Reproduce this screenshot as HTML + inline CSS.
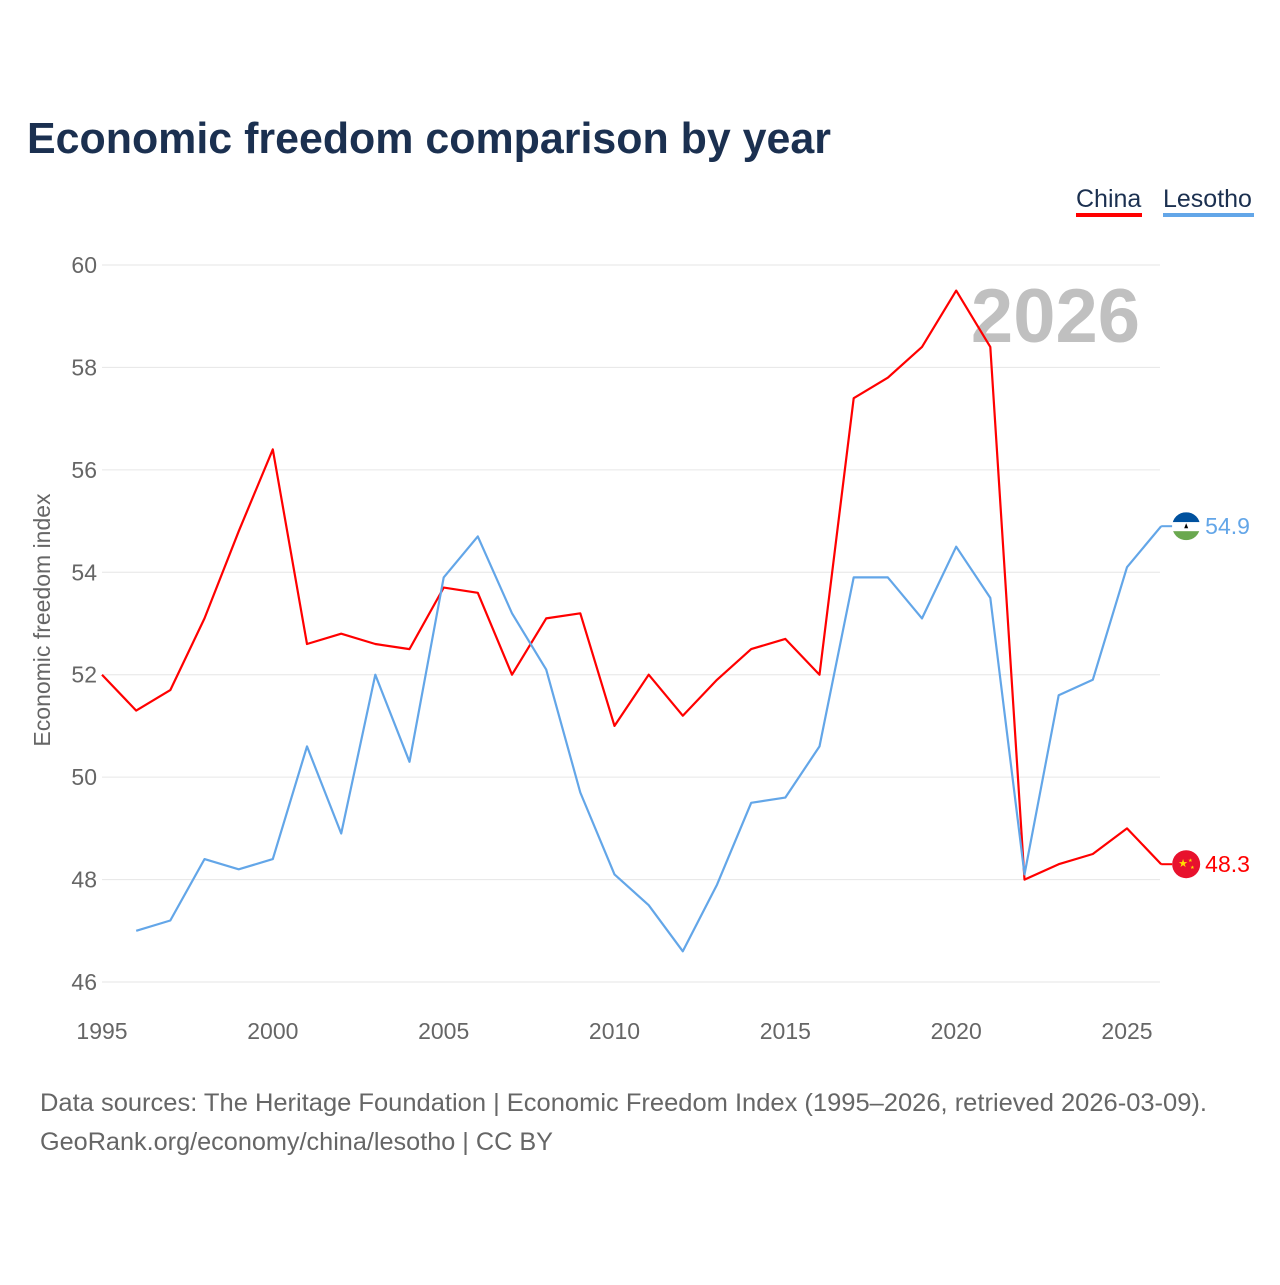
<!DOCTYPE html>
<html><head><meta charset="utf-8"><style>
body{margin:0;background:#fff;font-family:"Liberation Sans",sans-serif;}
svg text{font-family:"Liberation Sans",sans-serif;}
</style></head><body>
<svg id="chart" width="1280" height="1280">
<defs><clipPath id="lsClip"><circle cx="0" cy="0" r="14"/></clipPath></defs>
<text x="27" y="153" font-size="44" font-weight="bold" fill="#1b3050" textLength="804" lengthAdjust="spacingAndGlyphs">Economic freedom comparison by year</text>
<g>
<text x="1076" y="207" font-size="25" fill="#1b3050">China</text>
<rect x="1076" y="213" width="66" height="4" fill="#ff0000"/>
<text x="1163" y="207" font-size="25" fill="#1b3050">Lesotho</text>
<rect x="1163" y="213" width="91" height="4" fill="#63a6e8"/>
</g>
<text x="1140" y="342" font-size="76" font-weight="bold" fill="#c0c0c0" text-anchor="end">2026</text>
<g id="grid"></g><g id="axes"></g><g id="lines"></g>
<text transform="translate(50,620) rotate(-90)" font-size="23" fill="#666" text-anchor="middle">Economic freedom index</text>
<text x="40" y="1111" font-size="25" fill="#666" textLength="1167" lengthAdjust="spacingAndGlyphs">Data sources: The Heritage Foundation | Economic Freedom Index (1995–2026, retrieved 2026-03-09).</text>
<text x="40" y="1150" font-size="25" fill="#666" textLength="513" lengthAdjust="spacingAndGlyphs">GeoRank.org/economy/china/lesotho | CC BY</text>
</svg>
<script>
const years=[1995,1996,1997,1998,1999,2000,2001,2002,2003,2004,2005,2006,2007,2008,2009,2010,2011,2012,2013,2014,2015,2016,2017,2018,2019,2020,2021,2022,2023,2024,2025,2026];
const china=[52.0,51.3,51.7,53.1,54.8,56.4,52.6,52.8,52.6,52.5,53.7,53.6,52.0,53.1,53.2,51.0,52.0,51.2,51.9,52.5,52.7,52.0,57.4,57.8,58.4,59.5,58.4,48.0,48.3,48.5,49.0,48.3];
const lesotho=[null,47.0,47.2,48.4,48.2,48.4,50.6,48.9,52.0,50.3,53.9,54.7,53.2,52.1,49.7,48.1,47.5,46.6,47.9,49.5,49.6,50.6,53.9,53.9,53.1,54.5,53.5,48.1,51.6,51.9,54.1,54.9];
const yTicks=[46,48,50,52,54,56,58,60];
const xTicks=[1995,2000,2005,2010,2015,2020,2025];
const NS="http://www.w3.org/2000/svg";
const xs=y=>102+(y-1995)*(1025/30);
const ys=v=>265+(60-v)*(717/14);
function mk(tag,attrs,parent,txt){const e=document.createElementNS(NS,tag);for(const k in attrs)e.setAttribute(k,attrs[k]);if(txt!==undefined)e.textContent=txt;(typeof parent==='string'?document.getElementById(parent):parent).appendChild(e);return e;}
yTicks.forEach(t=>{
 const l=mk('line',{x1:102,x2:1160,y1:ys(t),y2:ys(t),stroke:'#e6e6e6','stroke-width':1},'grid');
 
 
 const tx=mk('text',{x:97,y:ys(t)+8,'font-size':23,fill:'#666','text-anchor':'end'},'axes',String(t));
 
 
});
xTicks.forEach(t=>{
 const tx=mk('text',{x:xs(t),y:1039,'font-size':23,fill:'#666','text-anchor':'middle'},'axes',String(t));
 
 
});
function line(vals,color,name){
 let d='';vals.forEach((v,i)=>{if(v==null)return;d+=(d?'L':'M')+xs(years[i]).toFixed(1)+','+ys(v).toFixed(1);});
 const p=mk('path',{d:d,fill:'none',stroke:color,'stroke-width':2.2,'stroke-linejoin':'round'},'lines');
 
 
 const lv=vals[vals.length-1],lx=xs(years[years.length-1]),ly=ys(lv);
 mk('line',{x1:lx,x2:lx+11,y1:ly,y2:ly,stroke:color,'stroke-width':2},'lines');
 const g=mk('g',{transform:'translate('+(lx+25)+','+ly+')'},'lines');
 
 
 if(name==='lesotho'){
  const f=mk('g',{'clip-path':'url(#lsClip)'},g);
  mk('rect',{x:-14,y:-14,width:28,height:10,fill:'#00519e'},f);
  mk('rect',{x:-14,y:-4,width:28,height:9,fill:'#ffffff'},f);
  mk('rect',{x:-14,y:5,width:28,height:9,fill:'#6aa84f'},f);
  mk('path',{d:'M-2,2 L0,-3 L2,2 Z',fill:'#000'},f);
 } else {
  mk('circle',{cx:0,cy:0,r:14,fill:'#e8112d'},g);
  mk('text',{x:-8,y:3,'font-size':11,fill:'#ffde00'},g,'★');
  mk('text',{x:2,y:-2,'font-size':5,fill:'#ffde00'},g,'★');
  mk('text',{x:4,y:5,'font-size':5,fill:'#ffde00'},g,'★');
 }
 const t=mk('text',{x:lx+44,y:ly+8,'font-size':23,fill:color},'lines',lv.toFixed(1));
 
 
}
line(china,'#ff0000','china');
line(lesotho,'#63a6e8','lesotho');
</script>
</body></html>
